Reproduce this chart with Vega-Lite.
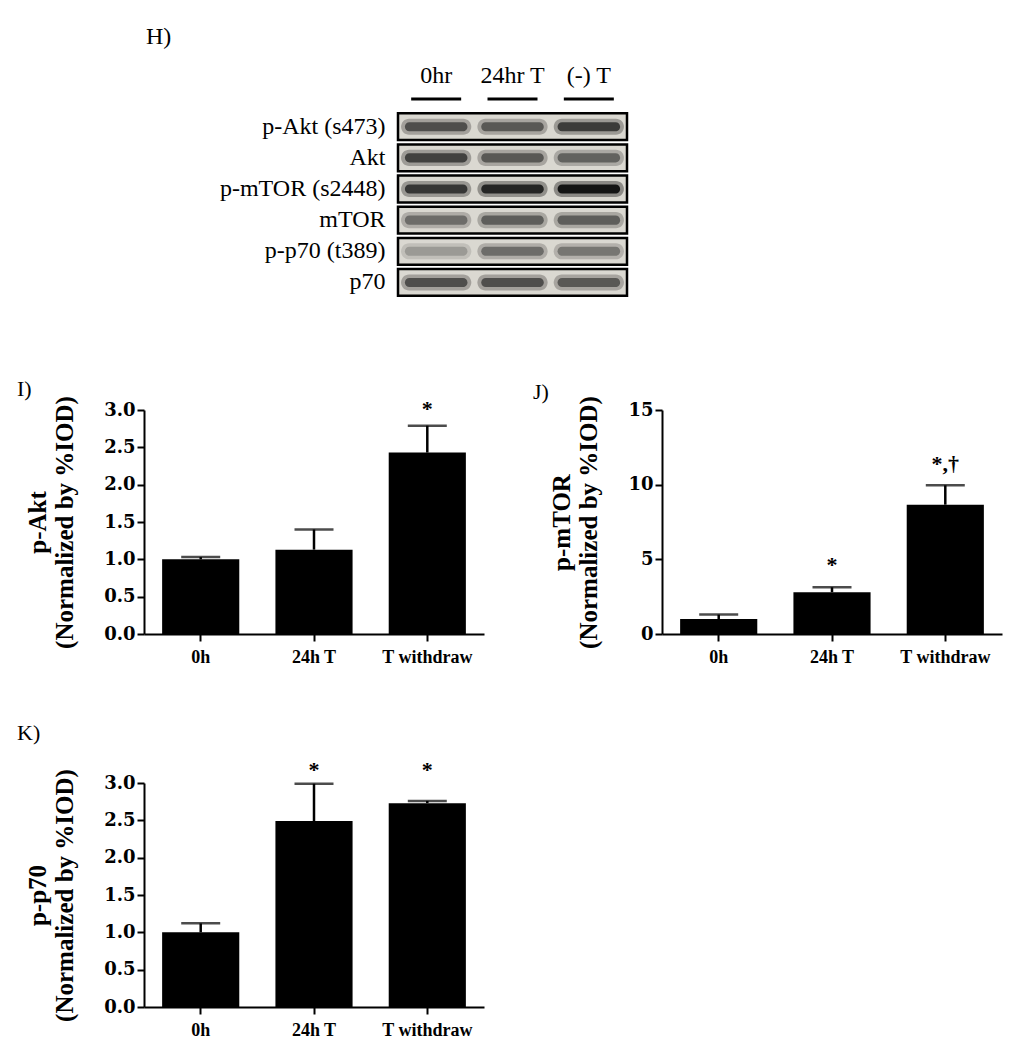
{
  "$schema": "https://vega.github.io/schema/vega-lite/v6.json",
  "background": "white",
  "padding": {"left": 17, "top": 25, "right": 5, "bottom": 5},
  "config": {
    "font": "Liberation Serif",
    "view": {"stroke": null},
    "axis": {"grid": false, "domainColor": "black", "domainWidth": 2, "tickColor": "black", "tickWidth": 2, "tickSize": 7, "labelColor": "black", "titleColor": "black", "labelOverlap": false},
    "axisX": {"labelFont": "Liberation Serif", "labelFontSize": 18, "labelFontWeight": "bold", "labelAngle": 0, "labelPadding": 7},
    "axisY": {"labelFont": "DejaVu Serif", "labelFontSize": 18, "labelFontWeight": "bold", "labelPadding": 2, "titleFont": "Liberation Serif", "titleFontSize": 25, "titleFontWeight": "bold", "titleLineHeight": 27, "titlePadding": 26},
    "title": {"font": "Liberation Serif", "fontSize": 22, "fontWeight": "normal", "color": "black", "anchor": "start", "frame": "group", "offset": 0}
  },
  "spacing": 79,
  "vconcat": [
    {
      "width": 483,
      "height": 218,
      "title": {"text": "H)", "fontSize": 24, "dx": 2, "offset": 14},
      "layer": [
        {
          "data": {"values": [{"row": "p-Akt (s473)"}, {"row": "Akt"}, {"row": "p-mTOR (s2448)"}, {"row": "mTOR"}, {"row": "p-p70 (t389)"}, {"row": "p70"}]},
          "mark": {"type": "rect", "width": {"band": 3}, "fill": "#dad8d1", "stroke": "black", "strokeWidth": 2.5},
          "encoding": {
            "x": {"datum": "24hr T", "type": "nominal", "scale": {"domain": ["0hr", "24hr T", "(-) T"], "range": [254, 483], "paddingInner": 0, "paddingOuter": 0},
                  "axis": {"orient": "top", "domain": false, "ticks": false, "tickSize": 0, "labelPadding": -2, "labelBaseline": "alphabetic", "labelFont": "Liberation Serif", "labelFontSize": 24, "labelFontWeight": "normal", "title": null}},
            "y": {"field": "row", "type": "nominal", "scale": {"domain": ["underline", "p-Akt (s473)", "Akt", "p-mTOR (s2448)", "mTOR", "p-p70 (t389)", "p70"], "paddingInner": 0.14, "paddingOuter": 0.07},
                  "axis": {"orient": "left", "offset": -254, "domain": false, "ticks": false, "tickSize": 0, "labelPadding": 13, "labelFont": "Liberation Serif", "labelFontSize": 24, "labelFontWeight": "normal", "title": null, "labelExpr": "datum.label == 'underline' ? '' : datum.label"}}
          }
        },
        {
          "data": {"name": "bands1", "values": [
            {"lane": "0hr", "row": "p-Akt (s473)", "intensity": 0.65},
            {"lane": "24hr T", "row": "p-Akt (s473)", "intensity": 0.6},
            {"lane": "(-) T", "row": "p-Akt (s473)", "intensity": 0.75},
            {"lane": "0hr", "row": "Akt", "intensity": 0.72},
            {"lane": "24hr T", "row": "Akt", "intensity": 0.6},
            {"lane": "(-) T", "row": "Akt", "intensity": 0.55},
            {"lane": "0hr", "row": "p-mTOR (s2448)", "intensity": 0.78},
            {"lane": "24hr T", "row": "p-mTOR (s2448)", "intensity": 0.88},
            {"lane": "(-) T", "row": "p-mTOR (s2448)", "intensity": 0.98},
            {"lane": "0hr", "row": "mTOR", "intensity": 0.5},
            {"lane": "24hr T", "row": "mTOR", "intensity": 0.57},
            {"lane": "(-) T", "row": "mTOR", "intensity": 0.57},
            {"lane": "0hr", "row": "p-p70 (t389)", "intensity": 0.28},
            {"lane": "24hr T", "row": "p-p70 (t389)", "intensity": 0.5},
            {"lane": "(-) T", "row": "p-p70 (t389)", "intensity": 0.45},
            {"lane": "0hr", "row": "p70", "intensity": 0.65},
            {"lane": "24hr T", "row": "p70", "intensity": 0.65},
            {"lane": "(-) T", "row": "p70", "intensity": 0.6}
          ]},
          "mark": {"type": "rect", "width": {"band": 0.92}, "height": {"band": 0.6}, "cornerRadius": 8, "opacity": 0.4},
          "encoding": {
            "x": {"field": "lane", "type": "nominal", "scale": {"domain": ["0hr", "24hr T", "(-) T"], "range": [254, 483], "paddingInner": 0, "paddingOuter": 0}},
            "y": {"field": "row", "type": "nominal", "scale": {"domain": ["underline", "p-Akt (s473)", "Akt", "p-mTOR (s2448)", "mTOR", "p-p70 (t389)", "p70"], "paddingInner": 0.14, "paddingOuter": 0.07}},
            "color": {"field": "intensity", "type": "quantitative", "scale": {"domain": [0, 1], "range": ["#dad8d1", "#101010"]}, "legend": null}
          }
        },
        {
          "data": {"name": "bands1"},
          "mark": {"type": "rect", "width": {"band": 0.82}, "height": {"band": 0.34}, "cornerRadius": 5},
          "encoding": {
            "x": {"field": "lane", "type": "nominal", "scale": {"domain": ["0hr", "24hr T", "(-) T"], "range": [254, 483], "paddingInner": 0, "paddingOuter": 0}},
            "y": {"field": "row", "type": "nominal", "scale": {"domain": ["underline", "p-Akt (s473)", "Akt", "p-mTOR (s2448)", "mTOR", "p-p70 (t389)", "p70"], "paddingInner": 0.14, "paddingOuter": 0.07}},
            "color": {"field": "intensity", "type": "quantitative", "scale": {"domain": [0, 1], "range": ["#dad8d1", "#101010"]}, "legend": null}
          }
        },
        {
          "data": {"values": [{"lane": "0hr"}, {"lane": "24hr T"}, {"lane": "(-) T"}]},
          "mark": {"type": "tick", "orient": "horizontal", "size": 50, "thickness": 3, "color": "black", "opacity": 1},
          "encoding": {
            "x": {"field": "lane", "type": "nominal", "scale": {"domain": ["0hr", "24hr T", "(-) T"], "range": [254, 483], "paddingInner": 0, "paddingOuter": 0}},
            "y": {"datum": "underline", "type": "nominal", "bandPosition": 0.63, "scale": {"domain": ["underline", "p-Akt (s473)", "Akt", "p-mTOR (s2448)", "mTOR", "p-p70 (t389)", "p70"], "paddingInner": 0.14, "paddingOuter": 0.07}}
          }
        }
      ]
    },
    {
      "spacing": 55,
      "vconcat": [
        {
          "bounds": "flush",
          "spacing": 178,
          "hconcat": [
            {
              "width": 340,
              "height": 224,
              "title": {"text": "I)", "dx": -127, "dy": 9},
              "data": {"values": [
                {"group": "0h", "mean": 1.0, "upper": 1.03},
                {"group": "24h T", "mean": 1.13, "upper": 1.40},
                {"group": "T withdraw", "mean": 2.43, "upper": 2.79, "sig": "*", "sig_y": 3.02}
              ]},
              "encoding": {"x": {"field": "group", "type": "nominal", "sort": null, "scale": {"paddingInner": 0.319, "paddingOuter": 0.16}, "axis": {"title": null}}},
              "layer": [
                {"mark": {"type": "bar", "color": "black"},
                 "encoding": {"y": {"field": "mean", "type": "quantitative", "scale": {"domain": [0, 3], "nice": false}, "axis": {"values": [0, 0.5, 1, 1.5, 2, 2.5, 3], "format": ".1f", "title": ["p-Akt", "(Normalized by %IOD)"]}}}},
                {"mark": {"type": "rule", "color": "black", "strokeWidth": 2.5},
                 "encoding": {"y": {"field": "mean", "type": "quantitative", "scale": {"domain": [0, 3], "nice": false}, "axis": {"values": [0, 0.5, 1, 1.5, 2, 2.5, 3], "format": ".1f", "title": ["p-Akt", "(Normalized by %IOD)"]}}, "y2": {"field": "upper"}}},
                {"mark": {"type": "tick", "color": "black", "size": 39, "thickness": 2.5},
                 "encoding": {"y": {"field": "upper", "type": "quantitative", "scale": {"domain": [0, 3], "nice": false}, "axis": {"values": [0, 0.5, 1, 1.5, 2, 2.5, 3], "format": ".1f", "title": ["p-Akt", "(Normalized by %IOD)"]}}}},
                {"transform": [{"filter": "datum.sig"}],
                 "mark": {"type": "text", "font": "Liberation Serif", "fontWeight": "bold", "fontSize": 22, "baseline": "middle", "color": "black"},
                 "encoding": {"y": {"field": "sig_y", "type": "quantitative", "scale": {"domain": [0, 3], "nice": false}, "axis": {"values": [0, 0.5, 1, 1.5, 2, 2.5, 3], "format": ".1f", "title": ["p-Akt", "(Normalized by %IOD)"]}}, "text": {"field": "sig", "type": "nominal"}}}
              ]
            },
            {
              "width": 340,
              "height": 224,
              "title": {"text": "J)", "dx": -129, "dy": 12},
              "data": {"values": [
                {"group": "0h", "mean": 1.0, "upper": 1.3},
                {"group": "24h T", "mean": 2.8, "upper": 3.13, "sig": "*", "sig_y": 4.65},
                {"group": "T withdraw", "mean": 8.66, "upper": 9.96, "sig": "*,†", "sig_y": 11.4}
              ]},
              "encoding": {"x": {"field": "group", "type": "nominal", "sort": null, "scale": {"paddingInner": 0.319, "paddingOuter": 0.16}, "axis": {"title": null}}},
              "layer": [
                {"mark": {"type": "bar", "color": "black"},
                 "encoding": {"y": {"field": "mean", "type": "quantitative", "scale": {"domain": [0, 15], "nice": false}, "axis": {"values": [0, 5, 10, 15], "format": "d", "title": ["p-mTOR", "(Normalized by %IOD)"]}}}},
                {"mark": {"type": "rule", "color": "black", "strokeWidth": 2.5},
                 "encoding": {"y": {"field": "mean", "type": "quantitative", "scale": {"domain": [0, 15], "nice": false}, "axis": {"values": [0, 5, 10, 15], "format": "d", "title": ["p-mTOR", "(Normalized by %IOD)"]}}, "y2": {"field": "upper"}}},
                {"mark": {"type": "tick", "color": "black", "size": 39, "thickness": 2.5},
                 "encoding": {"y": {"field": "upper", "type": "quantitative", "scale": {"domain": [0, 15], "nice": false}, "axis": {"values": [0, 5, 10, 15], "format": "d", "title": ["p-mTOR", "(Normalized by %IOD)"]}}}},
                {"transform": [{"filter": "datum.sig"}],
                 "mark": {"type": "text", "font": "Liberation Serif", "fontWeight": "bold", "fontSize": 22, "baseline": "middle", "color": "black"},
                 "encoding": {"y": {"field": "sig_y", "type": "quantitative", "scale": {"domain": [0, 15], "nice": false}, "axis": {"values": [0, 5, 10, 15], "format": "d", "title": ["p-mTOR", "(Normalized by %IOD)"]}}, "text": {"field": "sig", "type": "nominal"}}}
              ]
            }
          ]
        },
        {
          "width": 340,
          "height": 224,
          "title": {"text": "K)", "dx": -127, "dy": -10},
          "data": {"values": [
            {"group": "0h", "mean": 1.0, "upper": 1.12},
            {"group": "24h T", "mean": 2.49, "upper": 2.99, "sig": "*", "sig_y": 3.18},
            {"group": "T withdraw", "mean": 2.73, "upper": 2.76, "sig": "*", "sig_y": 3.18}
          ]},
          "encoding": {"x": {"field": "group", "type": "nominal", "sort": null, "scale": {"paddingInner": 0.319, "paddingOuter": 0.16}, "axis": {"title": null}}},
          "layer": [
            {"mark": {"type": "bar", "color": "black"},
             "encoding": {"y": {"field": "mean", "type": "quantitative", "scale": {"domain": [0, 3], "nice": false}, "axis": {"values": [0, 0.5, 1, 1.5, 2, 2.5, 3], "format": ".1f", "title": ["p-p70", "(Normalized by %IOD)"]}}}},
            {"mark": {"type": "rule", "color": "black", "strokeWidth": 2.5},
             "encoding": {"y": {"field": "mean", "type": "quantitative", "scale": {"domain": [0, 3], "nice": false}, "axis": {"values": [0, 0.5, 1, 1.5, 2, 2.5, 3], "format": ".1f", "title": ["p-p70", "(Normalized by %IOD)"]}}, "y2": {"field": "upper"}}},
            {"mark": {"type": "tick", "color": "black", "size": 39, "thickness": 2.5},
             "encoding": {"y": {"field": "upper", "type": "quantitative", "scale": {"domain": [0, 3], "nice": false}, "axis": {"values": [0, 0.5, 1, 1.5, 2, 2.5, 3], "format": ".1f", "title": ["p-p70", "(Normalized by %IOD)"]}}}},
            {"transform": [{"filter": "datum.sig"}],
             "mark": {"type": "text", "font": "Liberation Serif", "fontWeight": "bold", "fontSize": 22, "baseline": "middle", "color": "black"},
             "encoding": {"y": {"field": "sig_y", "type": "quantitative", "scale": {"domain": [0, 3], "nice": false}, "axis": {"values": [0, 0.5, 1, 1.5, 2, 2.5, 3], "format": ".1f", "title": ["p-p70", "(Normalized by %IOD)"]}}, "text": {"field": "sig", "type": "nominal"}}}
          ]
        }
      ]
    }
  ]
}
